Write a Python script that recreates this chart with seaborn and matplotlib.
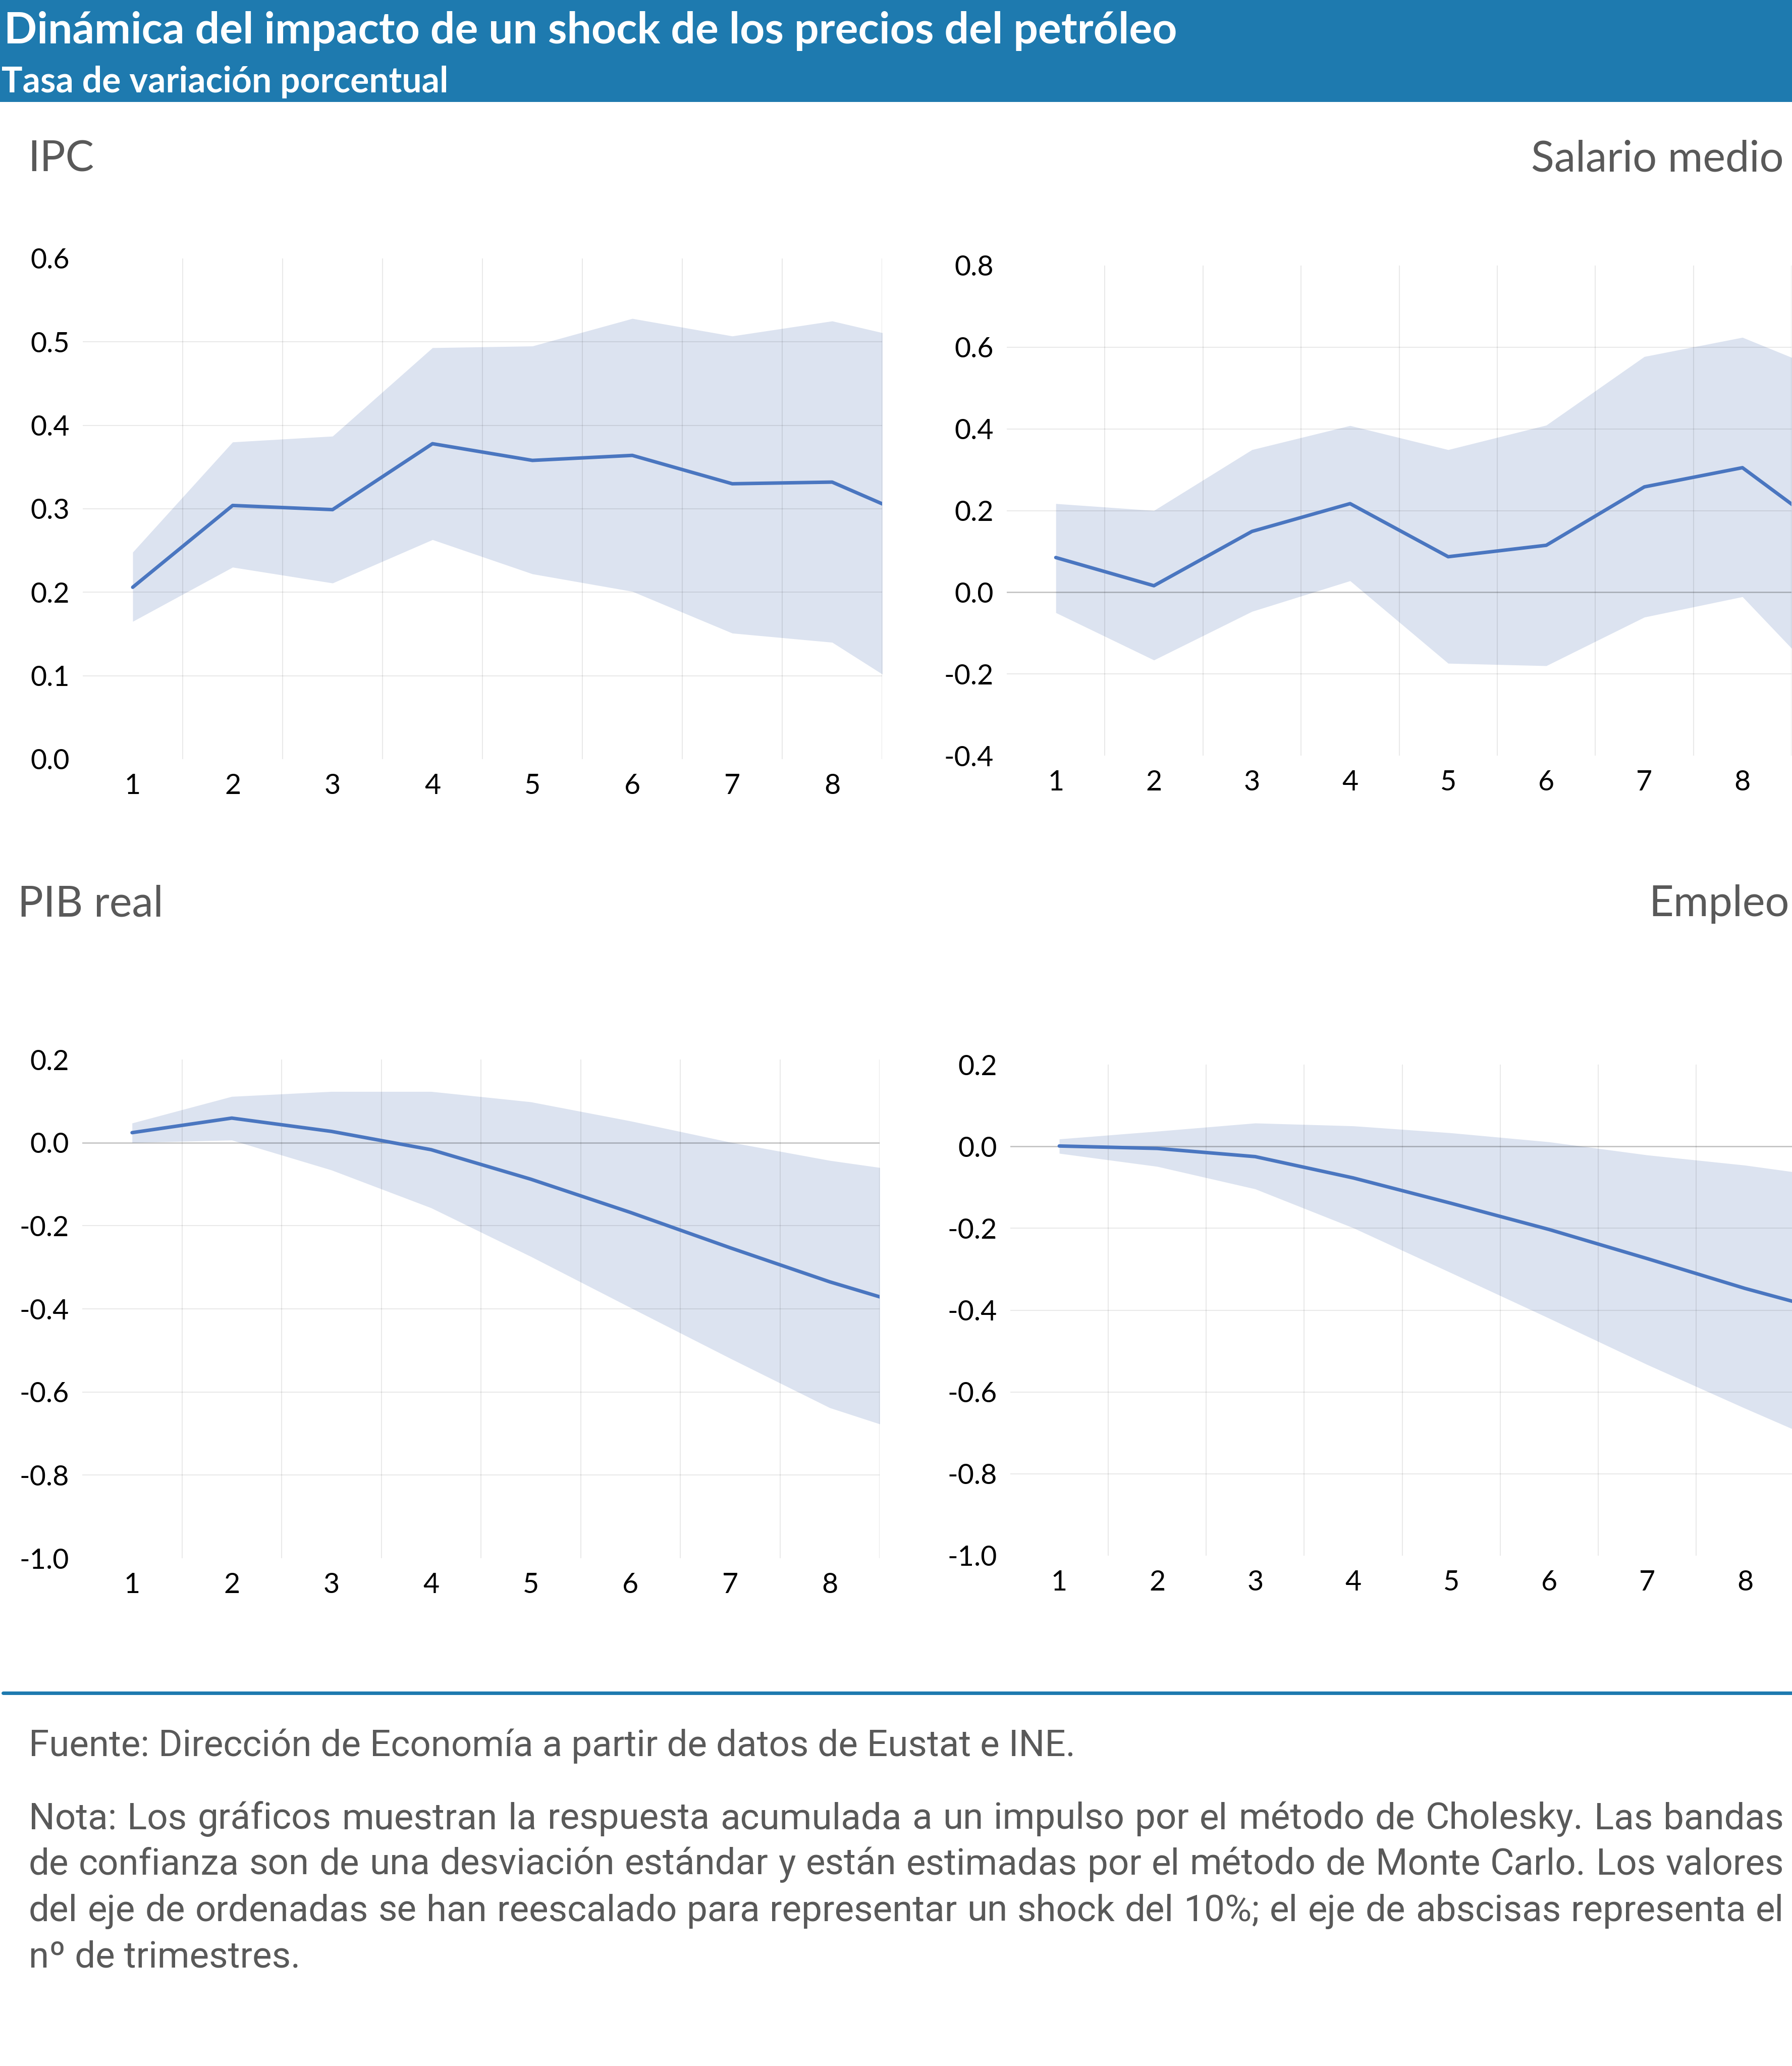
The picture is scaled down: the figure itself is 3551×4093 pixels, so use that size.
import matplotlib
matplotlib.use("Agg")
import matplotlib.pyplot as plt
from matplotlib.patches import Rectangle
from matplotlib.lines import Line2D
import seaborn as sns
import numpy as np
import pandas as pd

# ---------------- data ----------------
periodos = [1, 2, 3, 4, 5, 6, 7, 8, 9]
x_labels = ["1", "2", "3", "4", "5", "6", "7", "8"]

ipc_mid = [0.206, 0.304, 0.299, 0.378, 0.358, 0.364, 0.330, 0.332, 0.280]
ipc_hi = [0.248, 0.380, 0.387, 0.493, 0.495, 0.528, 0.507, 0.525, 0.497]
ipc_lo = [0.165, 0.230, 0.211, 0.263, 0.222, 0.201, 0.151, 0.140, 0.064]

sal_mid = [0.085, 0.016, 0.149, 0.217, 0.087, 0.115, 0.258, 0.305, 0.127]
sal_hi = [0.217, 0.200, 0.349, 0.408, 0.349, 0.409, 0.577, 0.624, 0.526]
sal_lo = [-0.050, -0.166, -0.047, 0.028, -0.174, -0.180, -0.061, -0.011, -0.263]

pib_mid = [0.024, 0.059, 0.027, -0.017, -0.088, -0.168, -0.253, -0.335, -0.407]
pib_hi = [0.047, 0.111, 0.123, 0.123, 0.098, 0.052, 0.001, -0.043, -0.077]
pib_lo = [0.000, 0.006, -0.066, -0.157, -0.274, -0.397, -0.519, -0.638, -0.716]

emp_mid = [0.001, -0.005, -0.025, -0.077, -0.139, -0.203, -0.274, -0.347, -0.412]
emp_hi = [0.018, 0.037, 0.057, 0.050, 0.033, 0.011, -0.021, -0.046, -0.079]
emp_lo = [-0.017, -0.049, -0.104, -0.199, -0.309, -0.420, -0.533, -0.640, -0.744]

ipc_ticks = [0.0, 0.1, 0.2, 0.3, 0.4, 0.5, 0.6]
sal_ticks = [-0.4, -0.2, 0.0, 0.2, 0.4, 0.6, 0.8]
pib_ticks = [-1.0, -0.8, -0.6, -0.4, -0.2, 0.0, 0.2]
emp_ticks = [-1.0, -0.8, -0.6, -0.4, -0.2, 0.0, 0.2]

title = "Dinámica del impacto de un shock de los precios del petróleo"
subtitle = "Tasa de variación porcentual"
fuente = "Fuente: Dirección de Economía a partir de datos de Eustat e INE."
nota_lines = [
    "Nota: Los gráficos muestran la respuesta acumulada a un impulso por el método de Cholesky. Las bandas",
    "de confianza son de una desviación estándar y están estimadas por el método de Monte Carlo. Los valores",
    "del eje de ordenadas se han reescalado para representar un shock del 10%; el eje de abscisas representa el",
    "nº de trimestres.",
]

# ---------------- style ----------------
W, H = 3551, 4093
BLUE_HDR = "#1E7AAF"
LINE_C = "#4A76C0"
BAND_C = "#DCE3F0"
GREY_T = "#595959"

sns.set_theme(style="white")
plt.rcParams["font.family"] = ["Lato", "DejaVu Sans"]
plt.rcParams["axes.axisbelow"] = True

fig = plt.figure(figsize=(W / 100, H / 100), dpi=100)
fig.patch.set_facecolor("white")
renderer = fig.canvas.get_renderer()


def fx(px):
    return px / W


def fy(py):
    return 1 - py / H


def fit_text(x, y, s, target_w, **kw):
    t = fig.text(x, y, s, **kw)
    w = t.get_window_extent(renderer).width
    t.set_fontsize(t.get_fontsize() * target_w / w)
    return t


def justify(x0, x1, y, line, **kw):
    words = line.split(" ")
    texts = [fig.text(0, y, w_, **kw) for w_ in words]
    widths = [t.get_window_extent(renderer).width for t in texts]
    gap = ((x1 - x0) - sum(widths)) / (len(words) - 1)
    pos = x0
    for t, w_ in zip(texts, widths):
        t.set_x(fx(pos))
        pos += w_ + gap


# header band
fig.add_artist(Rectangle((0, fy(202)), 1, 202 / H, transform=fig.transFigure,
                         facecolor=BLUE_HDR, edgecolor="none", zorder=0))
fit_text(fx(8), fy(86), title, 2318, color="white", fontweight="bold",
         fontsize=55, ha="left", va="baseline")
fit_text(fx(3), fy(183), subtitle, 885, color="white", fontweight="bold",
         fontsize=45, ha="left", va="baseline")

# ---------------- panels ----------------
panels = [
    ("IPC", ipc_mid, ipc_lo, ipc_hi, ipc_ticks, (164, 512, 1748, 1504), (55, 339, "left")),
    ("Salario medio", sal_mid, sal_lo, sal_hi, sal_ticks, (1995, 526, 3550, 1497), (3535, 340, "right")),
    ("PIB real", pib_mid, pib_lo, pib_hi, pib_ticks, (163, 2099, 1743, 3087), (35, 1815, "left")),
    ("Empleo", emp_mid, emp_lo, emp_hi, emp_ticks, (2002, 2109, 3555, 3082), (3546, 1815, "right")),
]

tmp = fit_text(0, 0, "Salario medio", 500, fontsize=58)
ptitle_size = tmp.get_fontsize()
tmp.remove()

for name, mid, lo, hi, ticks, (l, t, r, b), (tx, ty, tha) in panels:
    ax = fig.add_axes([fx(l), fy(b), (r - l) / W, (b - t) / H])
    df = pd.DataFrame({"periodo": periodos, "valor": mid, "inf": lo, "sup": hi})
    ax.fill_between(df["periodo"], df["inf"], df["sup"], color=BAND_C,
                    linewidth=0, zorder=0.3)
    sns.lineplot(data=df, x="periodo", y="valor", ax=ax, color=LINE_C,
                 linewidth=5.0, zorder=3)
    ax.set_xlim(0.5, 8.5)
    ax.set_ylim(ticks[0], ticks[-1])
    ax.set_xticks(range(1, 9))
    ax.set_xticklabels(x_labels)
    ax.set_xticks(np.arange(1.5, 9.0, 1.0), minor=True)
    ax.set_yticks(ticks)
    ax.set_yticklabels([f"{v:.1f}" for v in ticks])
    ax.set_xlabel("")
    ax.set_ylabel("")
    for s in ax.spines.values():
        s.set_visible(False)
    ax.grid(False)
    ax.grid(which="minor", axis="x", color="black", alpha=0.085, linewidth=1.5)
    ax.grid(which="major", axis="y", color="black", alpha=0.085, linewidth=1.5)
    for gl, v in zip(ax.get_ygridlines(), ticks):
        if v in (ticks[0], ticks[-1]):
            gl.set_visible(False)
        elif abs(v) < 1e-9:
            gl.set_alpha(0.25)
            gl.set_linewidth(1.8)
    ax.tick_params(axis="both", which="both", length=0, labelsize=40,
                   labelcolor="black")
    ax.tick_params(axis="x", pad=20)
    ax.tick_params(axis="y", pad=19)
    ax.set_facecolor("none")
    fig.text(fx(tx), fy(ty), name, ha=tha, va="baseline",
             fontsize=ptitle_size, color=GREY_T)

# separator line
fig.add_artist(Line2D([fx(6), 1], [fy(3354), fy(3354)], transform=fig.transFigure,
                      color=BLUE_HDR, linewidth=5))

# footer
ft = fit_text(fx(57), fy(3479), fuente, 2074, fontsize=48, color=GREY_T,
              ha="left", va="baseline", family=["Roboto", "DejaVu Sans"])
fsize = ft.get_fontsize()
base = [3623, 3714, 3806, 3898]
for i, line in enumerate(nota_lines):
    kw = dict(fontsize=fsize, color=GREY_T, ha="left", va="baseline",
              family=["Roboto", "DejaVu Sans"])
    if i < 3:
        justify(57, 3535, fy(base[i]), line, **kw)
    else:
        fig.text(fx(57), fy(base[i]), line, **kw)

fig.savefig("out.png", dpi=100)
